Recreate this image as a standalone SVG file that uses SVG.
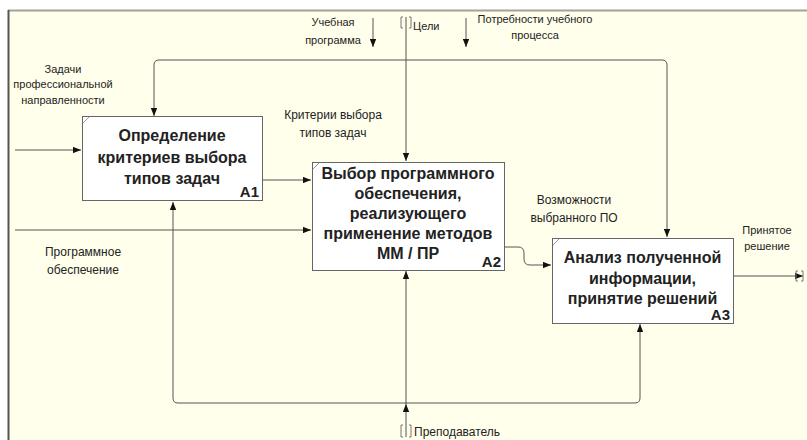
<svg xmlns="http://www.w3.org/2000/svg" width="807" height="440" viewBox="0 0 807 440">
<defs>
<marker id="arr" viewBox="0 0 10 8" refX="10" refY="4" markerWidth="8" markerHeight="6.4" markerUnits="userSpaceOnUse" orient="auto">
<path d="M0,0 L10,4 L0,8 Z" fill="#111"/>
</marker>
<style>
.bg{fill:#FFFFEC}
.box{fill:#fff;stroke:#666;stroke-width:1}
.corner{stroke:#999;stroke-width:1}
.ln{fill:none;stroke:#555;stroke-width:1}
.ar{fill:none;stroke:#555;stroke-width:1;marker-end:url(#arr)}
.t{font-family:"Liberation Sans",Arial,sans-serif;font-size:11px;fill:#222;text-anchor:middle}
.s{font-family:"Liberation Sans",Arial,sans-serif;font-size:11px;fill:#222;text-anchor:start}
.b{font-family:"Liberation Sans",Arial,sans-serif;font-size:16px;font-weight:bold;fill:#222;text-anchor:middle}
.id{font-family:"Liberation Sans",Arial,sans-serif;font-size:15px;font-weight:bold;fill:#222;text-anchor:end}
.br{fill:none;stroke:#777;stroke-width:1}
</style>
</defs>
<rect x="0" y="0" width="807" height="440" fill="#fff"/>
<rect class="bg" x="8" y="10" width="799" height="430"/>
<line x1="8" y1="10.5" x2="807" y2="10.5" stroke="#A3A294" stroke-width="2"/>
<line x1="8.5" y1="10" x2="8.5" y2="440" stroke="#555" stroke-width="2"/>

<g id="connectors">
<path class="ar" d="M406,17 L406,161"/>
<path class="ar" d="M406,60 L159,60 Q154,60 154,65 L154,116"/>
<path class="ar" d="M406,60 L662,60 Q667,60 667,65 L667,237"/>
<path class="ar" d="M373,18 L373,47"/>
<path class="ar" d="M466,18 L466,47"/>
<path class="ar" d="M15,150 L81,150"/>
<path class="ar" d="M15,230 L311,230"/>
<path class="ar" d="M263,180 L311,180"/>
<path class="ar" d="M504,247 L518,247 Q524,247 524,253 L524,259 Q524,265 530,265 L551,265"/>
<path class="ar" d="M733,276 L803,276"/>
<path class="br" d="M798,271 L796,271 L796,281 L798,281 M801,271 L803,271 L803,281 L801,281"/>
<path class="ar" d="M406,437 L406,404"/>
<path class="ar" d="M406,404 L406,271"/>
<path class="ar" d="M406,403 L178,403 Q173,403 173,398 L173,202"/>
<path class="ar" d="M406,403 L635,403 Q640,403 640,398 L640,324"/>
<path class="br" d="M403,17 L401,17 L401,28 L403,28 M409,17 L411,17 L411,28 L409,28"/>
<path class="br" d="M403,425 L401,425 L401,437 L403,437 M409,425 L411,425 L411,437 L409,437"/>
</g>

<g id="A1">
<rect class="box" x="82.5" y="116.5" width="180" height="84"/>
<line class="corner" x1="83" y1="123" x2="89" y2="117"/>
<text class="b" x="172" y="141">Определение</text>
<text class="b" x="172" y="163">критериев выбора</text>
<text class="b" x="172" y="184">типов задач</text>
<text class="id" x="259" y="197">A1</text>
</g>

<g id="A2">
<rect class="box" x="312.5" y="162.5" width="192" height="108"/>
<line class="corner" x1="313" y1="169" x2="319" y2="163"/>
<text class="b" x="408" y="179">Выбор программного</text>
<text class="b" x="408" y="199">обеспечения,</text>
<text class="b" x="408" y="219">реализующего</text>
<text class="b" x="408" y="239">применение методов</text>
<text class="b" x="408" y="259">ММ / ПР</text>
<text class="id" x="501" y="267">A2</text>
</g>

<g id="A3">
<rect class="box" x="552.5" y="238.5" width="181" height="85"/>
<line class="corner" x1="553" y1="245" x2="559" y2="239"/>
<text class="b" x="642.5" y="263">Анализ полученной</text>
<text class="b" x="642.5" y="284">информации,</text>
<text class="b" x="642.5" y="304">принятие решений</text>
<text class="id" x="730" y="320">A3</text>
</g>

<g id="labels">
<text class="t" x="333" y="26">Учебная</text>
<text class="t" x="333" y="44">программа</text>
<text class="s" x="413" y="30">Цели</text>
<text class="t" x="535" y="23">Потребности учебного</text>
<text class="t" x="535" y="39">процесса</text>
<text class="t" x="63" y="73">Задачи</text>
<text class="t" x="63" y="88">профессиональной</text>
<text class="t" x="63" y="104">направленности</text>
<text class="t" x="333" y="119" style="font-size:12px">Критерии выбора</text>
<text class="t" x="333" y="137" style="font-size:12px">типов задач</text>
<text class="t" x="574" y="204" style="font-size:12px">Возможности</text>
<text class="t" x="574" y="222" style="font-size:12px">выбранного ПО</text>
<text class="t" x="83" y="256" style="font-size:12px">Программное</text>
<text class="t" x="83" y="274" style="font-size:12px">обеспечение</text>
<text class="t" x="767" y="234">Принятое</text>
<text class="t" x="767" y="250">решение</text>
<text class="s" x="414" y="436" style="font-size:12px">Преподаватель</text>
</g>
</svg>
